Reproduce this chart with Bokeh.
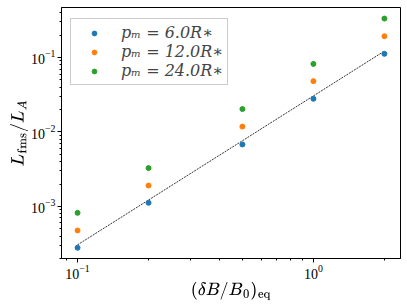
from bokeh.plotting import figure
from bokeh.models import Range1d, Legend, LegendItem, LogTickFormatter, FixedTicker
from bokeh.embed import file_html
from bokeh.resources import INLINE

# data
dB = [0.1, 0.2, 0.5, 1.0, 2.0]
L_6 = [2.79e-4, 1.12e-3, 6.8e-3, 2.79e-2, 0.112]
L_12 = [4.76e-4, 1.91e-3, 1.18e-2, 4.81e-2, 0.193]
L_24 = [8.2e-4, 3.27e-3, 2.03e-2, 8.2e-2, 0.333]
fit_x = [0.1, 2.0]
fit_y = [3.05e-4, 0.122]
labels = ["pₘ = 6.0R∗", "pₘ = 12.0R∗", "pₘ = 24.0R∗"]
colors = ["#1f77b4", "#ff7f0e", "#2ca02c"]
x_major = [0.1, 1.0]
x_minor = [0.09, 0.2, 0.3, 0.4, 0.5, 0.6, 0.7, 0.8, 0.9, 2.0]
y_major = [1e-3, 1e-2, 1e-1]
y_minor = [2e-4, 3e-4, 4e-4, 5e-4, 6e-4, 7e-4, 8e-4, 9e-4,
           2e-3, 3e-3, 4e-3, 5e-3, 6e-3, 7e-3, 8e-3, 9e-3,
           2e-2, 3e-2, 4e-2, 5e-2, 6e-2, 7e-2, 8e-2, 9e-2,
           0.2, 0.3, 0.4]

p = figure(width=407, height=307, x_axis_type="log", y_axis_type="log",
           x_range=Range1d(0.0855, 2.34), y_range=Range1d(2.0e-4, 0.469),
           output_backend="svg", toolbar_location=None,
           min_border_left=61, min_border_right=7, min_border_top=7, min_border_bottom=49)
p.grid.visible = False
p.outline_line_color = "black"
p.outline_line_width = 1
p.background_fill_color = "white"
p.border_fill_color = "white"

p.line(fit_x, fit_y, line_color="black", line_width=0.8, line_dash="2 1")

rs = []
for ys, c in zip([L_6, L_12, L_24], colors):
    rs.append(p.scatter(dB, ys, size=5, fill_color=c, line_color=c))

items = [LegendItem(label=l, renderers=[r]) for l, r in zip(labels, rs)]
leg = Legend(items=items, location=(9, 173),
             border_line_color="#cccccc", border_line_alpha=1.0,
             background_fill_alpha=0.8, label_text_font_size="16px",
             label_text_font="DejaVu Serif", label_text_font_style="italic",
             spacing=0, padding=4, glyph_width=38, glyph_height=12,
             label_standoff=8, label_height=18)
p.add_layout(leg)

p.xaxis.ticker = FixedTicker(ticks=x_major, minor_ticks=x_minor)
p.yaxis.ticker = FixedTicker(ticks=y_major, minor_ticks=y_minor)

for ax in (p.xaxis[0], p.yaxis[0]):
    ax.axis_line_color = "black"
    ax.major_tick_line_color = "black"
    ax.minor_tick_line_color = "black"
    ax.major_tick_in = 0
    ax.major_tick_out = 4
    ax.minor_tick_in = 0
    ax.minor_tick_out = 2
    ax.major_label_text_font = "Liberation Serif"
    ax.major_label_text_font_size = "14px"
    ax.major_label_text_color = "black"
    ax.major_label_standoff = 2
    ax.axis_label_standoff = 0
    ax.axis_label_text_font_size = "15px"
    ax.axis_label_text_font_style = "normal"
    ax.axis_label_text_color = "black"
    ax.formatter = LogTickFormatter()

p.xaxis.axis_label = r"$$(\delta B/B_0)_{\rm eq}$$"
p.yaxis.axis_label = r"$$L_{\rm fms}/L_A$$"
p.yaxis.major_label_orientation = "horizontal"

open("out.html", "w").write(file_html(p, INLINE))
